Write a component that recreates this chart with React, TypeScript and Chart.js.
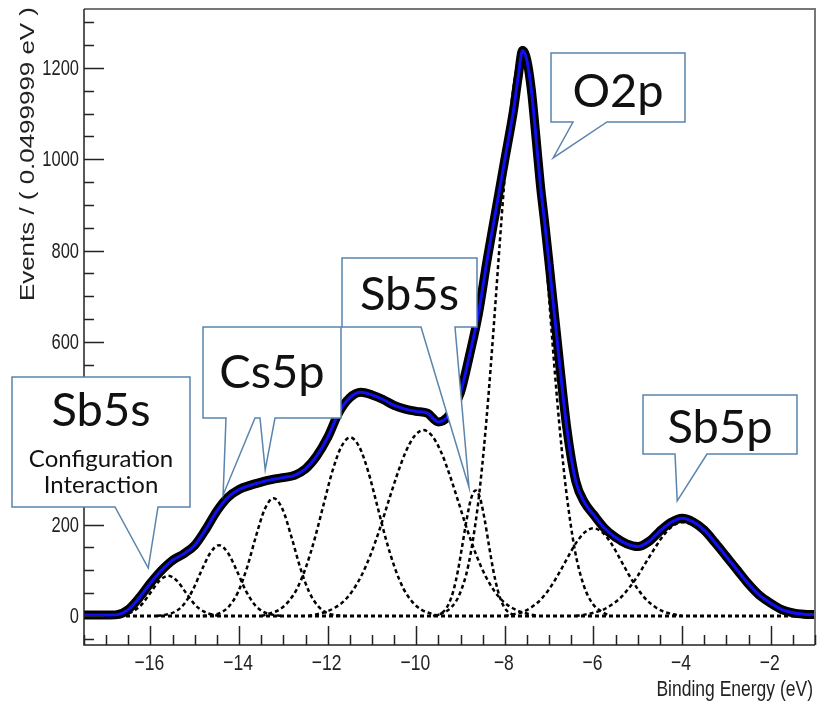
import React, { useEffect, useRef } from "react";
import { Chart, registerables } from "chart.js";

Chart.register(...registerables);

// ---- measured spectrum (data and fit follow the same trace) ----
const energy = [
  -17.5, -17.25, -17.0, -16.75, -16.5, -16.25, -16.0, -15.75, -15.5, -15.25,
  -15.0, -14.75, -14.5, -14.25, -14.0, -13.75, -13.5, -13.25, -13.0, -12.75,
  -12.5, -12.25, -12.0, -11.75, -11.5, -11.25, -11.0, -10.75, -10.5, -10.25,
  -10.0, -9.75, -9.5, -9.3, -9.15, -9.0, -8.8, -8.6, -8.4, -8.2,
  -8.0, -7.8, -7.7, -7.6, -7.5, -7.4, -7.3, -7.2, -7.1, -7.0,
  -6.8, -6.6, -6.4, -6.2, -6.0, -5.75, -5.5, -5.25, -5.0, -4.75,
  -4.5, -4.25, -4.0, -3.75, -3.5, -3.25, -3.0, -2.75, -2.5, -2.25,
  -2.0, -1.75, -1.5, -1.25, -1.0,
];
const counts = [
  2, 2, 2, 3, 14, 40, 72, 100, 122, 136,
  155, 190, 230, 260, 277, 286, 293, 299, 303, 308,
  322, 350, 391, 445, 478, 490, 484, 474, 461, 453,
  448, 444, 425, 435, 458, 490, 570, 660, 780, 890,
  1000, 1110, 1180, 1238, 1215, 1150, 1050, 945, 860, 770,
  585, 410, 295, 248, 222, 192, 172, 158, 152, 163,
  186, 205, 214, 206, 188, 160, 130, 100, 70, 45,
  28, 14, 7, 4, 3,
];

// ---- fitted components (dashed) ----
const sb5sCiX = [-16.8, -16.6, -16.4, -16.2, -16.0, -15.8, -15.6, -15.4, -15.2, -15.0, -14.8, -14.6, -14.4];
const sb5sCiY = [0, 3, 10, 25, 51, 77, 88, 77, 51, 25, 10, 3, 0];

const cs5pAX = [-15.85, -15.65, -15.45, -15.25, -15.05, -14.85, -14.65, -14.45, -14.25, -14.05, -13.85, -13.65, -13.45, -13.25, -13.05];
const cs5pAY = [0, 3, 9, 25, 56, 99, 138, 155, 138, 99, 56, 25, 9, 3, 0];

const cs5pBX = [-14.82, -14.62, -14.42, -14.22, -14.02, -13.82, -13.62, -13.42, -13.22, -13.02, -12.82, -12.62, -12.42, -12.22, -12.02, -11.82, -11.62];
const cs5pBY = [0, 2, 7, 22, 53, 106, 174, 234, 258, 234, 174, 106, 53, 22, 7, 2, 0];

const peak4X = [-13.49, -13.29, -13.09, -12.89, -12.69, -12.49, -12.29, -12.09, -11.89, -11.69, -11.49, -11.29, -11.09, -10.89, -10.69, -10.49, -10.29, -10.09, -9.89, -9.69, -9.49];
const peak4Y = [0, 6, 14, 31, 60, 107, 170, 245, 318, 371, 391, 371, 318, 245, 170, 107, 60, 31, 14, 6, 0];

const peak5X = [-12.44, -12.24, -12.04, -11.84, -11.64, -11.44, -11.24, -11.04, -10.84, -10.64, -10.44, -10.24, -10.04, -9.84, -9.64, -9.44, -9.24, -9.04, -8.84, -8.64, -8.44, -8.24, -8.04, -7.84, -7.64, -7.44, -7.24];
const peak5Y = [0, 4, 9, 18, 32, 55, 88, 132, 186, 247, 307, 359, 394, 407, 394, 359, 307, 247, 186, 132, 88, 55, 32, 18, 9, 4, 0];

const sb5sX = [-9.56, -9.46, -9.36, -9.26, -9.16, -9.06, -8.96, -8.86, -8.76, -8.66, -8.56, -8.46, -8.36, -8.26, -8.16, -8.06, -7.96, -7.86, -7.76];
const sb5sY = [0, 5, 12, 28, 56, 99, 155, 213, 258, 275, 258, 213, 155, 99, 56, 28, 12, 5, 0];

const o2pX = [-9.62, -9.42, -9.22, -9.02, -8.82, -8.62, -8.52, -8.42, -8.32, -8.22, -8.12, -8.02, -7.92, -7.82, -7.72, -7.62, -7.52, -7.42, -7.32, -7.22, -7.12, -7.02, -6.92, -6.82, -6.72, -6.62, -6.42, -6.22, -6.02, -5.82, -5.62];
const o2pY = [0, 6, 18, 48, 113, 234, 321, 425, 545, 676, 811, 941, 1056, 1147, 1205, 1225, 1207, 1154, 1071, 966, 845, 718, 592, 473, 368, 277, 144, 67, 27, 10, 0];

const peak6X = [-8.0, -7.8, -7.6, -7.4, -7.2, -7.0, -6.8, -6.6, -6.4, -6.2, -6.0, -5.8, -5.6, -5.4, -5.2, -5.0, -4.8, -4.6, -4.4, -4.2, -4.0];
const peak6Y = [0, 4, 9, 19, 35, 59, 90, 125, 159, 183, 192, 183, 159, 125, 90, 59, 35, 19, 9, 4, 0];

const sb5pX = [-6.4, -6.2, -6.0, -5.8, -5.6, -5.4, -5.2, -5.0, -4.8, -4.6, -4.4, -4.2, -4.0, -3.8, -3.6, -3.4, -3.2, -3.0, -2.8, -2.6, -2.4, -2.2, -2.0, -1.8, -1.6, -1.4, -1.2, -1.0];
const sb5pY = [0, 3, 7, 13, 24, 39, 61, 88, 120, 151, 179, 198, 205, 201, 189, 171, 149, 124, 100, 77, 57, 41, 28, 16, 9, 5, 3, 2];

const baselineX = [-17.5, -1.0];
const baselineY = [0, 0];

// ---- axes ----
const xMin = -17.5;
const xMax = -1.0;
const yMin = -63.5;
const yMax = 1329;
const xTickLabels = [-16, -14, -12, -10, -8, -6, -4, -2];
const yTickLabels = [0, 200, 400, 600, 800, 1000, 1200];
const xTitle = "Binding Energy (eV)";
const yTitle = "Events / ( 0.0499999 eV )";

// ---- callouts (tips in data units) ----
const callouts = [
  {
    box: [12, 377, 190, 507],
    lines: [
      { t: "Sb5s", size: 47, base: 426 },
      { t: "Configuration", size: 24, base: 467 },
      { t: "Interaction", size: 24, base: 493 },
    ],
    tails: [{ b0: 115, b1: 158, tip: [-16.05, 105] }],
  },
  {
    box: [203, 327, 341, 418],
    lines: [{ t: "Cs5p", size: 47, base: 388 }],
    tails: [
      { b0: 226, b1: 255, tip: [-14.36, 265] },
      { b0: 260, b1: 275, tip: [-13.41, 320] },
    ],
  },
  {
    box: [342, 258, 477, 327],
    lines: [{ t: "Sb5s", size: 47, base: 310 }],
    tails: [{ b0: 421, b1: 455, tip: [-8.81, 282] }],
  },
  {
    box: [551, 53, 685, 122],
    lines: [{ t: "O2p", size: 47, base: 107 }],
    tails: [{ b0: 573, b1: 607, tip: [-6.91, 1003] }],
  },
  {
    box: [643, 395, 797, 454],
    lines: [{ t: "Sb5p", size: 47, base: 443 }],
    tails: [{ b0: 675, b1: 707, tip: [-4.11, 252] }],
  },
];

const pts = (xs: number[], ys: number[]) => xs.map((x, i) => ({ x, y: ys[i] }));

const AXIS_FONT = "'Liberation Sans', Arial, Helvetica, sans-serif";
const CALLOUT_FONT = "Lato, 'Open Sans', 'Noto Sans', sans-serif";

const overlayPlugin = {
  id: "overlay",
  afterDraw(chart: any) {
    const ctx: CanvasRenderingContext2D = chart.ctx;
    const xs = chart.scales.x;
    const ys = chart.scales.y;
    const { left, right, top, bottom } = chart.chartArea;
    ctx.save();

    // frame
    ctx.strokeStyle = "#777";
    ctx.lineWidth = 2;
    ctx.beginPath();
    ctx.moveTo(left, top);
    ctx.lineTo(right, top);
    ctx.lineTo(right, bottom);
    ctx.stroke();
    ctx.strokeStyle = "#222";
    ctx.lineWidth = 1.5;
    ctx.beginPath();
    ctx.moveTo(left, top);
    ctx.lineTo(left, bottom);
    ctx.lineTo(right, bottom);
    ctx.stroke();

    // y ticks (inside)
    ctx.beginPath();
    for (let v = -50; v <= 1300; v += 50) {
      const py = Math.round(ys.getPixelForValue(v)) + 0.5;
      const len = v % 200 === 0 ? 20 : 10;
      ctx.moveTo(left, py);
      ctx.lineTo(left + len, py);
    }
    // x ticks (inside)
    for (let i = 0; i <= 33; i++) {
      const v = xMin + i * 0.5;
      const px = Math.round(xs.getPixelForValue(v)) + 0.5;
      const major = Number.isInteger(v) && Math.abs(v) % 2 === 0;
      const len = major ? 19 : 10;
      ctx.moveTo(px, bottom);
      ctx.lineTo(px, bottom - len);
    }
    ctx.stroke();

    // tick labels (stretched vertically like the original)
    ctx.fillStyle = "#222";
    ctx.font = `16.5px ${AXIS_FONT}`;
    ctx.textAlign = "right";
    ctx.textBaseline = "middle";
    for (const v of yTickLabels) {
      const py = ys.getPixelForValue(v);
      ctx.save();
      ctx.translate(left - 5, py + 1);
      ctx.scale(1, 1.3);
      ctx.fillText(String(v), 0, 0);
      ctx.restore();
    }
    ctx.font = `17.5px ${AXIS_FONT}`;
    ctx.textAlign = "center";
    for (const v of xTickLabels) {
      const px = xs.getPixelForValue(v);
      ctx.save();
      ctx.translate(px - 1, bottom + 19);
      ctx.scale(1, 1.3);
      ctx.fillText(String(v).replace("-", "\u2212"), 0, 0);
      ctx.restore();
    }

    // axis titles
    ctx.font = `17.5px ${AXIS_FONT}`;
    ctx.textAlign = "right";
    ctx.textBaseline = "alphabetic";
    ctx.save();
    ctx.translate(right - 2, 696);
    ctx.scale(1, 1.3);
    ctx.fillText(xTitle, 0, 0);
    ctx.restore();

    ctx.font = `19.5px ${AXIS_FONT}`;
    ctx.save();
    ctx.translate(34, 7);
    ctx.rotate(-Math.PI / 2);
    ctx.scale(1.33, 1);
    ctx.textAlign = "right";
    ctx.fillText(yTitle, 0, 0);
    ctx.restore();

    // callouts
    for (const c of callouts) {
      const [x0, y0, x1, y1] = c.box;
      ctx.beginPath();
      ctx.moveTo(x0, y0);
      ctx.lineTo(x1, y0);
      ctx.lineTo(x1, y1);
      const tails = [...c.tails].sort((a, b) => b.b0 - a.b0);
      for (const t of tails) {
        ctx.lineTo(t.b1, y1);
        ctx.lineTo(xs.getPixelForValue(t.tip[0]), ys.getPixelForValue(t.tip[1]));
        ctx.lineTo(t.b0, y1);
      }
      ctx.lineTo(x0, y1);
      ctx.closePath();
      ctx.fillStyle = "#ffffff";
      ctx.fill();
      ctx.strokeStyle = "#5a84ad";
      ctx.lineWidth = 1.5;
      ctx.stroke();
      ctx.fillStyle = "#111";
      ctx.textAlign = "center";
      ctx.textBaseline = "alphabetic";
      const cx = (x0 + x1) / 2;
      for (const l of c.lines) {
        ctx.font = `${l.size}px ${CALLOUT_FONT}`;
        ctx.fillText(l.t, cx, l.base);
      }
    }
    ctx.restore();
  },
};

export default function App() {
  const canvasRef = useRef<HTMLCanvasElement | null>(null);

  useEffect(() => {
    document.body.style.margin = "0";
    const canvas = canvasRef.current;
    if (!canvas) return;
    const dashed = (xs: number[], ys: number[]) => ({
      data: pts(xs, ys),
      borderColor: "#000",
      borderWidth: 2.5,
      borderDash: [4, 3],
      pointRadius: 0,
      cubicInterpolationMode: "monotone" as const,
      fill: false,
    });
    const chart = new Chart(canvas, {
      type: "line",
      data: {
        datasets: [
          {
            data: pts(energy, counts),
            borderColor: "#1010f0",
            borderWidth: 3,
            pointRadius: 0,
            cubicInterpolationMode: "monotone",
            fill: false,
          },
          {
            data: pts(energy, counts),
            borderColor: "#000",
            borderWidth: 9,
            pointRadius: 4,
            pointBackgroundColor: "#000",
            pointBorderWidth: 0,
            cubicInterpolationMode: "monotone",
            fill: false,
          },
          dashed(sb5sCiX, sb5sCiY),
          dashed(cs5pAX, cs5pAY),
          dashed(cs5pBX, cs5pBY),
          dashed(peak4X, peak4Y),
          dashed(peak5X, peak5Y),
          dashed(sb5sX, sb5sY),
          dashed(o2pX, o2pY),
          dashed(peak6X, peak6Y),
          dashed(sb5pX, sb5pY),
          { ...dashed(baselineX, baselineY), borderWidth: 3 },
        ] as any,
      },
      options: {
        animation: false,
        responsive: true,
        maintainAspectRatio: false,
        events: [],
        layout: { padding: { left: 84, right: 4, top: 9, bottom: 56 } },
        plugins: { legend: { display: false }, tooltip: { enabled: false } },
        scales: {
          x: { type: "linear", min: xMin, max: xMax, display: false },
          y: { type: "linear", min: yMin, max: yMax, display: false },
        },
      },
      plugins: [overlayPlugin],
    });
    return () => chart.destroy();
  }, []);

  return (
    <div style={{ width: 819, height: 701, position: "relative", background: "#fff" }}>
      <canvas ref={canvasRef} />
    </div>
  );
}
